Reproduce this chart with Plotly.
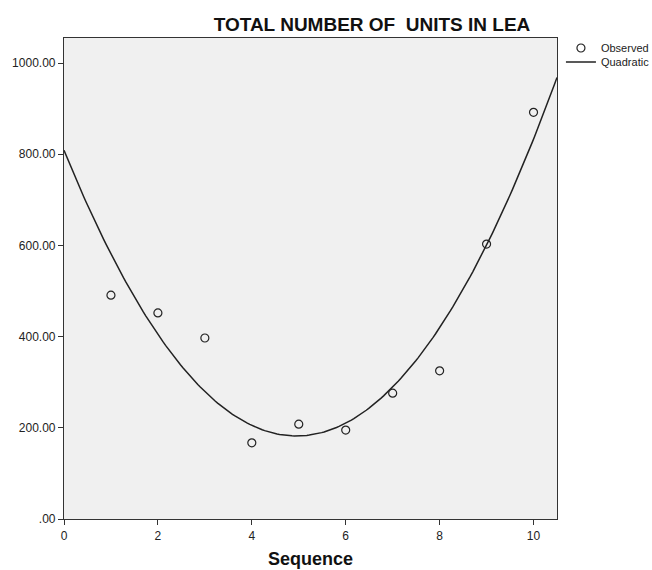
import numpy as np
import plotly.graph_objects as go

sequence = [1, 2, 3, 4, 5, 6, 7, 8, 9, 10]
observed = [491, 452, 397, 167, 208, 195, 276, 325, 603, 892]
y_ticks = [0, 200, 400, 600, 800, 1000]
y_tick_labels = [".00", "200.00", "400.00", "600.00", "800.00", "1000.00"]
x_ticks = [0, 2, 4, 6, 8, 10]

coef = np.polyfit(sequence, observed, 2)
xs = np.linspace(0, 10.5, 200)
ys = np.polyval(coef, xs)

fig = go.Figure()
fig.add_trace(go.Scatter(x=sequence, y=observed, mode="markers", name="Observed",
                         legend="legend",
                         marker=dict(symbol="circle-open", size=8, color="#222",
                                     line=dict(width=1.2, color="#222"))))
fig.add_trace(go.Scatter(x=xs, y=ys, mode="lines", name="Quadratic",
                         legend="legend2",
                         line=dict(color="#222", width=1.5)))

leg_common = dict(xanchor="left", yanchor="middle", bgcolor="rgba(0,0,0,0)",
                  font=dict(size=11, color="#222"), itemwidth=30)

fig.update_layout(
    width=652, height=570,
    margin=dict(l=64, r=95, t=38, b=51, autoexpand=False),
    paper_bgcolor="white", plot_bgcolor="#F0F0F0",
    font=dict(family="Liberation Sans, Arial", size=12, color="#222"),
    title=dict(text="<b>TOTAL NUMBER OF  UNITS IN LEA</b>", x=372/652, xanchor="center",
               y=1-24/570, yanchor="middle", font=dict(size=19, color="#111")),
    showlegend=True,
    legend=dict(x=1.008, y=(519-48)/481, **leg_common),
    legend2=dict(x=1.008, y=(519-62)/481, **leg_common),
    xaxis=dict(range=[0, 10.5], tickvals=x_ticks, ticks="outside", ticklen=5,
               tickcolor="#333", showgrid=False, zeroline=False, showline=True,
               linecolor="#333", linewidth=1.2, mirror=True, automargin=False,
               title=dict(text="<b>Sequence</b>", font=dict(size=18, color="#111"), standoff=10)),
    yaxis=dict(range=[0, 1055], tickvals=y_ticks, ticktext=y_tick_labels, ticks="outside",
               ticklen=5, tickcolor="#333", showgrid=False, zeroline=False, showline=True,
               linecolor="#333", linewidth=1.2, mirror=True, automargin=False),
)

fig.write_html("out.html", config={"displayModeBar": False},
               post_script="document.body.style.margin='0px';")
